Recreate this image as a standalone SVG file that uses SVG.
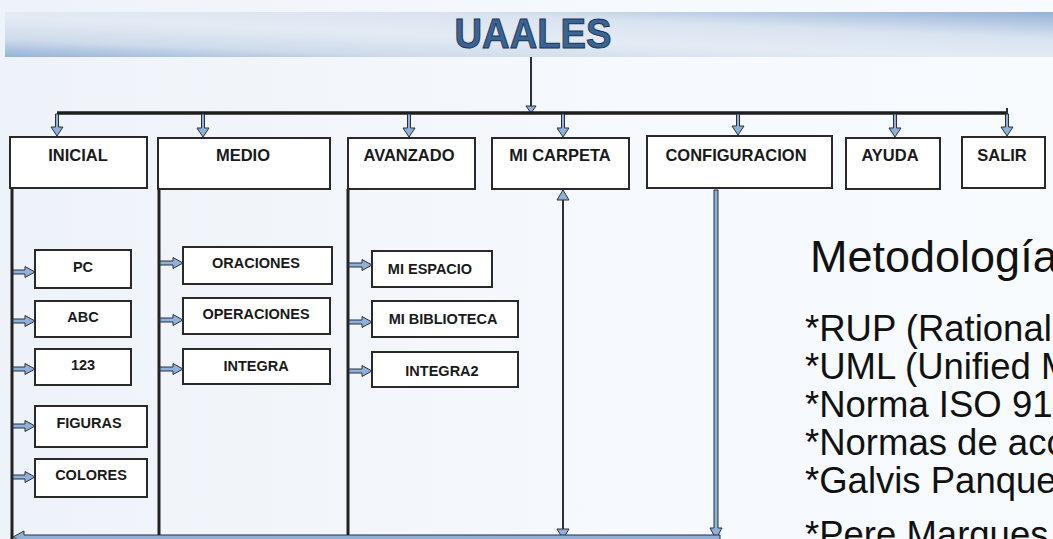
<svg xmlns="http://www.w3.org/2000/svg" width="1053" height="539" viewBox="0 0 1053 539">
<defs>
<linearGradient id="bg" x1="0" y1="0" x2="1" y2="0">
<stop offset="0" stop-color="#eef3f9"/>
<stop offset="0.6" stop-color="#f6f9fd"/>
<stop offset="1" stop-color="#f8fbfe"/>
</linearGradient>
<linearGradient id="bar" x1="0" y1="1" x2="1" y2="0">
<stop offset="0" stop-color="#94b2d8"/>
<stop offset="0.2" stop-color="#cfdbeb"/>
<stop offset="0.45" stop-color="#e4ebf4"/>
<stop offset="0.7" stop-color="#d9e3f0"/>
<stop offset="1" stop-color="#95b2d7"/>
</linearGradient>
<style>
.box{fill:#ffffff;stroke:#2a2a2a;stroke-width:2}
.lbl{font-family:"Liberation Sans",Arial,sans-serif;font-weight:bold;font-size:16.5px;fill:#1a1a1a;text-anchor:middle}
.sub{font-size:14.5px}
.arr{fill:#8eb0d9;stroke:#2b2f3a;stroke-width:1}
.ln{stroke:#222;stroke-width:3;fill:none}
.thin{stroke:#2b2f3a;stroke-width:2;fill:none}
.met{font-family:"Liberation Sans",Arial,sans-serif;fill:#111}
.bul{font-size:36.5px}
</style>
</defs>
<rect width="1053" height="539" fill="url(#bg)"/>
<g id="title">
<rect x="5" y="12" width="1048" height="45" fill="url(#bar)"/>
<text x="533" y="48" text-anchor="middle" font-family="'Liberation Sans',Arial,sans-serif" font-weight="bold" font-size="42" fill="#3a6496" stroke="#1f3550" stroke-width="1" textLength="157" lengthAdjust="spacingAndGlyphs">UAALES</text>
</g>
<g id="connectors">
<line class="thin" x1="531" y1="57" x2="531" y2="106"/>
<path class="arr" d="M526,106 L536,106 L531,113 Z"/>
<line x1="57" y1="113" x2="1008" y2="113" stroke="#1e1e1e" stroke-width="3.5"/>
<line class="thin" x1="1007" y1="108" x2="1007" y2="114"/>
<path class="arr" d="M55.5,114 H58.5 V127 H63 L57,136 L51,127 H55.5 Z"/>
<path class="arr" d="M201.5,114 H204.5 V128 H209 L203,137 L197,128 H201.5 Z"/>
<path class="arr" d="M407.5,114 H410.5 V128 H415 L409,137 L403,128 H407.5 Z"/>
<path class="arr" d="M561.5,114 H564.5 V128 H569 L563,137 L557,128 H561.5 Z"/>
<path class="arr" d="M736.5,114 H739.5 V126 H744 L738,135 L732,126 H736.5 Z"/>
<path class="arr" d="M893.5,114 H896.5 V128 H901 L895,137 L889,128 H893.5 Z"/>
<path class="arr" d="M1005.5,114 H1008.5 V127 H1013 L1007,136 L1001,127 H1005.5 Z"/>
<line class="ln" x1="12" y1="188" x2="12" y2="539"/>
<line class="ln" x1="159" y1="189" x2="159" y2="539"/>
<line class="ln" x1="348" y1="189" x2="348" y2="539"/>
<path class="arr" d="M13,270 H25 V266.5 L35,272 L25,277.5 V274 H13 Z"/>
<path class="arr" d="M13,319 H25 V315.5 L35,321 L25,326.5 V323 H13 Z"/>
<path class="arr" d="M13,367 H25 V363.5 L35,369 L25,374.5 V371 H13 Z"/>
<path class="arr" d="M13,424 H25 V420.5 L35,426 L25,431.5 V428 H13 Z"/>
<path class="arr" d="M13,475 H25 V471.5 L35,477 L25,482.5 V479 H13 Z"/>
<path class="arr" d="M160,261 H173 V257.5 L183,263 L173,268.5 V265 H160 Z"/>
<path class="arr" d="M160,318 H173 V314.5 L183,320 L173,325.5 V322 H160 Z"/>
<path class="arr" d="M160,367 H173 V363.5 L183,369 L173,374.5 V371 H160 Z"/>
<path class="arr" d="M349,263 H362 V259.5 L372,265 L362,270.5 V267 H349 Z"/>
<path class="arr" d="M349,320 H362 V316.5 L372,322 L362,327.5 V324 H349 Z"/>
<path class="arr" d="M349,369 H362 V365.5 L372,371 L362,376.5 V373 H349 Z"/>
<line class="thin" x1="563" y1="199" x2="563" y2="529"/>
<path class="arr" d="M557,200 L569,200 L563,190 Z"/>
<path class="arr" d="M557,529 L569,529 L563,539 Z"/>
<path class="arr" d="M714,190 H718 V528 H722 L716,539 L710,528 H714 Z"/>
<path class="arr" d="M13,537 L24,531 V535 H720 V541 H24 V543 Z"/>
</g>
<g id="n-inicial"><rect class="box" x="10" y="137" width="137" height="51"/><text class="lbl" x="78" y="161">INICIAL</text></g>
<g id="n-medio"><rect class="box" x="158" y="138" width="172" height="51"/><text class="lbl" x="243" y="161">MEDIO</text></g>
<g id="n-avanzado"><rect class="box" x="348" y="138" width="127" height="51"/><text class="lbl" x="409" y="161">AVANZADO</text></g>
<g id="n-micarpeta"><rect class="box" x="492" y="138" width="137" height="51"/><text class="lbl" x="560" y="161">MI CARPETA</text></g>
<g id="n-configuracion"><rect class="box" x="647" y="136" width="185" height="52"/><text class="lbl" x="736" y="161">CONFIGURACION</text></g>
<g id="n-ayuda"><rect class="box" x="846" y="138" width="94" height="51"/><text class="lbl" x="890" y="161">AYUDA</text></g>
<g id="n-salir"><rect class="box" x="962" y="137" width="83" height="51"/><text class="lbl" x="1002" y="161">SALIR</text></g>
<g id="n-pc"><rect class="box" x="35" y="250" width="96" height="38"/><text class="lbl sub" x="83" y="272">PC</text></g>
<g id="n-abc"><rect class="box" x="35" y="301" width="96" height="36"/><text class="lbl sub" x="83" y="322">ABC</text></g>
<g id="n-123"><rect class="box" x="35" y="349" width="96" height="36"/><text class="lbl sub" x="83" y="370">123</text></g>
<g id="n-figuras"><rect class="box" x="35" y="406" width="112" height="41"/><text class="lbl sub" x="89" y="428">FIGURAS</text></g>
<g id="n-colores"><rect class="box" x="35" y="459" width="112" height="38"/><text class="lbl sub" x="91" y="480">COLORES</text></g>
<g id="n-oraciones"><rect class="box" x="183" y="247" width="149" height="37"/><text class="lbl sub" x="256" y="268">ORACIONES</text></g>
<g id="n-operaciones"><rect class="box" x="183" y="298" width="147" height="36"/><text class="lbl sub" x="256" y="319">OPERACIONES</text></g>
<g id="n-integra"><rect class="box" x="183" y="349" width="147" height="35"/><text class="lbl sub" x="256" y="371">INTEGRA</text></g>
<g id="n-miespacio"><rect class="box" x="372" y="251" width="120" height="36"/><text class="lbl sub" x="430" y="274">MI ESPACIO</text></g>
<g id="n-mibiblioteca"><rect class="box" x="372" y="301" width="146" height="36"/><text class="lbl sub" x="443" y="324">MI BIBLIOTECA</text></g>
<g id="n-integra2"><rect class="box" x="372" y="352" width="146" height="35"/><text class="lbl sub" x="442" y="376">INTEGRA2</text></g>
<g id="metodologia">
<text class="met" x="810" y="272" font-size="45">Metodología</text>
<text class="met bul" x="805" y="341">*RUP (Rational</text>
<text class="met bul" x="805" y="379">*UML (Unified M</text>
<text class="met bul" x="805" y="417">*Norma ISO 91</text>
<text class="met bul" x="805" y="455">*Normas de acc</text>
<text class="met bul" x="805" y="493">*Galvis Panque</text>
<text class="met bul" x="805" y="547">*Pere Marques</text>
</g>
</svg>
